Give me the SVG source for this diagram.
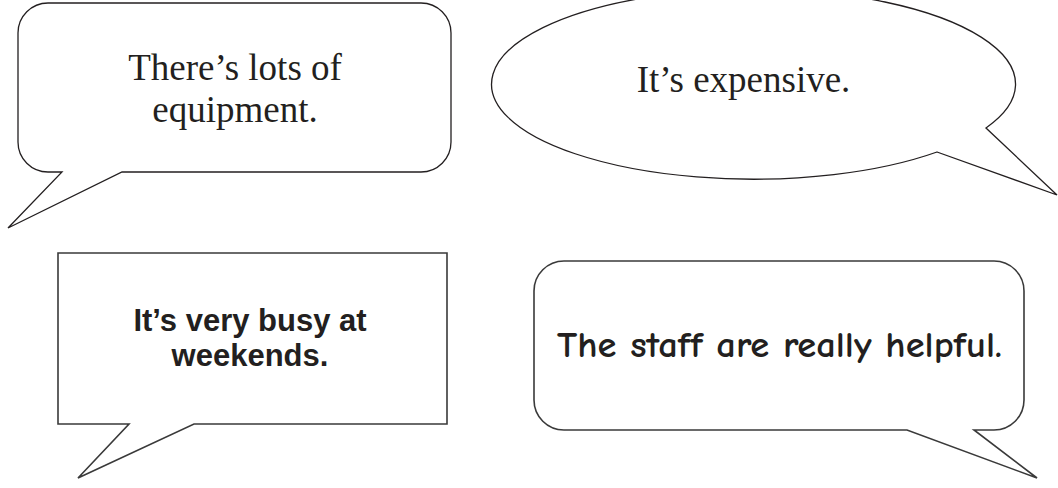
<svg xmlns="http://www.w3.org/2000/svg" width="1058" height="488" viewBox="0 0 1058 488">
<style>
.bub{fill:#fff;stroke:#231f20;stroke-width:1.3;stroke-linejoin:miter}
.bub2{fill:#fff;stroke:#3a3a3a;stroke-width:1.6;stroke-linejoin:miter}
.serif{font-family:"Liberation Serif","Times New Roman",serif;font-size:37px;fill:#231f20;text-anchor:middle}
.bold{font-family:"Liberation Sans",Arial,sans-serif;font-size:31px;font-weight:bold;fill:#231f20;text-anchor:middle}
.comic{font-family:"Comic Sans MS","Comic Neue","DejaVu Sans",sans-serif;font-size:37px;font-weight:bold;fill:#231f20;text-anchor:middle}
</style>
<rect width="1058" height="488" fill="#fff"/>
<g id="bubble-equipment">
<path class="bub" d="M48 3H421A30 30 0 0 1 451 33V142A30 30 0 0 1 421 172H122L8 228L62 172H48A30 30 0 0 1 18 142V33A30 30 0 0 1 48 3Z"/>
<text class="serif" x="235" y="80">There’s lots of</text>
<text class="serif" x="235" y="122">equipment.</text>
</g>
<g id="bubble-expensive">
<path class="bub" d="M937 152L1057 195L986 128A262 95 0 1 0 937 152Z"/>
<text class="serif" x="743.5" y="92">It’s expensive.</text>
</g>
<g id="bubble-busy">
<path class="bub2" d="M58 253H447V424H194L78 478L129 424H58Z"/>
<text class="bold" x="250" y="331">It’s very busy at</text>
<text class="bold" x="250" y="366">weekends.</text>
</g>
<g id="bubble-staff">
<path class="bub2" d="M564 261H994A30 30 0 0 1 1024 291V400A30 30 0 0 1 994 430H974L1037 478L907 430H564A30 30 0 0 1 534 400V291A30 30 0 0 1 564 261Z"/>
<text class="comic" x="779.5" y="357" textLength="445" lengthAdjust="spacingAndGlyphs">The staff are really helpful.</text>
</g>
<g id="connectors"/>
</svg>
